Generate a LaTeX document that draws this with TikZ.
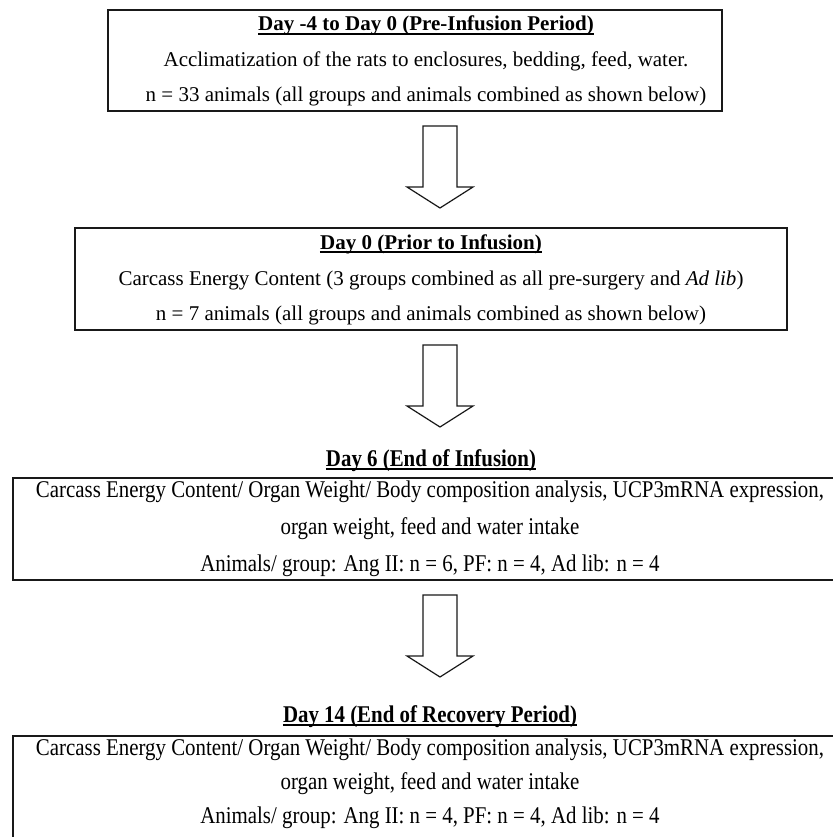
\documentclass[tikz,border=0pt]{standalone}
\usepackage{fontspec}
\setmainfont{Liberation Serif}
\newfontfamily\condfont[FakeStretch=0.87]{Liberation Serif}
\begin{document}
\begin{tikzpicture}[x=1pt,y=1pt,
  boxline/.style={draw=black!90, line width=1.5pt, inner sep=0pt},
  arrowline/.style={draw=black!90, line width=1.2pt, line join=miter},
  txtA/.style={anchor=base, inner sep=0pt, font=\fontsize{21}{25}\selectfont},
  ttlA/.style={anchor=base, inner sep=0pt, font=\fontsize{21}{25}\selectfont\bfseries},
  txtB/.style={anchor=base, inner sep=0pt, font=\condfont\fontsize{24}{28}\selectfont},
  ttlB/.style={anchor=base, inner sep=0pt, font=\condfont\fontsize{24}{28}\selectfont\bfseries},
  uline/.style={line width=1.6pt, draw=black},
  pics/blockdown/.style={code={\draw[arrowline] (-17,0) -- (17,0) -- (17,-61) -- (33,-61) -- (0,-82) -- (-33,-61) -- (-17,-61) -- cycle;}}
]
\useasboundingbox (0,0) rectangle (832,-837);

% Box 1
\node[boxline, minimum width=614pt, minimum height=101pt] (box1) at (415,-60.5) {};
\node[ttlA] (t1) at (426,-31) {Day -4 to Day 0 (Pre-Infusion Period)};
\draw[uline] ([yshift=-3pt]t1.base west) -- ([yshift=-3pt]t1.base east);
\node[txtA] (b1l2) at (426,-67) {Acclimatization of the rats to enclosures, bedding, feed, water.};
\node[txtA] (b1l3) at (426,-102) {n = 33 animals (all groups and animals combined as shown below)};

% Arrow 1
\coordinate (a1) at (440,-126);
\pic at (a1) {blockdown};

% Box 2
\node[boxline, minimum width=712pt, minimum height=102pt] (box2) at (431,-279) {};
\node[ttlA] (t2) at (431,-249) {Day 0 (Prior to Infusion)};
\draw[uline] ([yshift=-3pt]t2.base west) -- ([yshift=-3pt]t2.base east);
\node[txtA] (b2l2) at (431,-285) {Carcass Energy Content (3 groups combined as all pre-surgery and \textit{Ad lib})};
\node[txtA] (b2l3) at (431,-320) {n = 7 animals (all groups and animals combined as shown below)};

% Arrow 2
\coordinate (a2) at (440,-345);
\pic at (a2) {blockdown};

% Day 6
\node[ttlB] (t3) at (431,-466) {Day 6 (End of Infusion)};
\draw[uline] ([yshift=-3pt]t3.base west) -- ([yshift=-3pt]t3.base east);
\node[boxline, minimum width=837pt, minimum height=102pt] (box3) at (431.5,-529) {};
\node[txtB] (b3l1) at (430,-497) {Carcass Energy Content/ Organ Weight/ Body composition analysis, UCP3mRNA expression,};
\node[txtB] (b3l2) at (430,-534) {organ weight, feed and water intake};
\node[txtB] (b3l3) at (430,-571) {Animals/ group: Ang II: n = 6, PF: n = 4, Ad lib: n = 4};

% Arrow 3
\coordinate (a3) at (440,-595);
\pic at (a3) {blockdown};

% Day 14
\node[ttlB] (t4) at (430,-722) {Day 14 (End of Recovery Period)};
\draw[uline] ([yshift=-3pt]t4.base west) -- ([yshift=-3pt]t4.base east);
\node[boxline, minimum width=837pt, minimum height=144pt] (box4) at (431.5,-808) {};
\node[txtB] (b4l1) at (430,-755) {Carcass Energy Content/ Organ Weight/ Body composition analysis, UCP3mRNA expression,};
\node[txtB] (b4l2) at (430,-789) {organ weight, feed and water intake};
\node[txtB] (b4l3) at (430,-823) {Animals/ group: Ang II: n = 4, PF: n = 4, Ad lib: n = 4};
\end{tikzpicture}
\end{document}
